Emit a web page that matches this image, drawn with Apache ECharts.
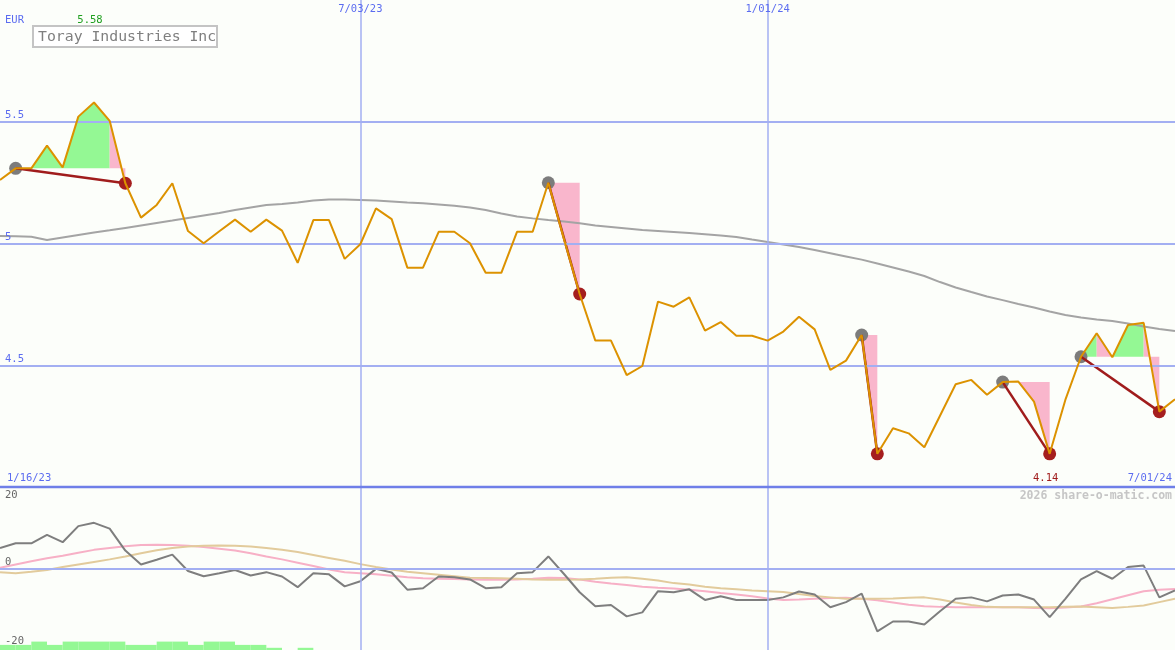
<!DOCTYPE html>
<html><head><meta charset="utf-8">
<script src="https://cdn.jsdelivr.net/npm/echarts@6/dist/echarts.min.js"></script>
<style>html,body{margin:0;padding:0;background:#fcfefa;}#c{width:1175px;height:650px;}</style>
</head><body><div id="c"></div>
<script>
// ---- data (weekly closes) ----
const price = [5.262,5.31,5.31,5.403,5.314,5.522,5.58,5.505,5.249,5.108,
5.16,5.249,5.053,5.003,5.052,5.10,5.05,5.10,5.055,4.923,
5.098,5.098,4.939,4.999,5.146,5.102,4.903,4.903,5.05,5.05,
5.003,4.882,4.882,5.05,5.05,5.251,5.02,4.795,4.604,4.604,
4.463,4.50,4.764,4.743,4.781,4.645,4.68,4.624,4.624,4.604,
4.641,4.702,4.65,4.484,4.522,4.627,4.14,4.245,4.224,4.167,
4.296,4.425,4.443,4.382,4.434,4.436,4.354,4.14,4.361,4.538,
4.634,4.536,4.668,4.677,4.313,4.364];
const avg = [5.033,5.032,5.030,5.016,5.027,5.037,5.047,5.056,5.066,5.076,
5.086,5.096,5.107,5.117,5.127,5.139,5.150,5.160,5.164,5.170,
5.178,5.182,5.182,5.180,5.178,5.174,5.170,5.167,5.162,5.157,
5.150,5.139,5.125,5.113,5.105,5.098,5.092,5.085,5.076,5.070,
5.064,5.057,5.053,5.049,5.045,5.040,5.035,5.029,5.018,5.008,
4.998,4.988,4.975,4.962,4.949,4.936,4.920,4.904,4.887,4.869,
4.844,4.822,4.803,4.785,4.770,4.754,4.740,4.723,4.709,4.699,
4.691,4.684,4.674,4.662,4.652,4.643];
const oscGray = [5.6,6.9,6.9,9.2,7.2,11.6,12.5,10.9,4.9,1.1,
2.4,3.8,-0.7,-2.1,-1.3,-0.4,-1.9,-1.0,-2.2,-5.1,
-1.3,-1.6,-4.9,-3.5,-0.1,-1.1,-5.8,-5.4,-2.2,-2.4,
-3.0,-5.4,-5.1,-1.3,-1.0,3.3,-1.5,-6.5,-10.3,-10.0,
-13.1,-12.0,-6.2,-6.5,-5.7,-8.6,-7.6,-8.6,-8.6,-8.6,
-7.9,-6.3,-7.1,-10.6,-9.2,-6.9,-17.2,-14.5,-14.5,-15.3,
-11.7,-8.3,-7.9,-9.0,-7.4,-7.1,-8.5,-13.3,-8.3,-3.0,
-0.7,-2.8,0.4,0.8,-7.9,-6.0];
const oscPink = [0.2,1.1,2.0,2.8,3.5,4.3,5.1,5.6,6.1,6.4,
6.5,6.4,6.2,5.9,5.4,4.9,4.2,3.3,2.5,1.6,
0.7,-0.3,-1.0,-1.3,-1.6,-2.0,-2.4,-2.7,-2.8,-2.9,
-3.0,-3.1,-3.1,-3.0,-2.8,-2.5,-2.6,-3.0,-3.6,-4.1,
-4.5,-5.0,-5.3,-5.5,-5.8,-6.2,-6.7,-7.1,-7.6,-8.2,
-8.6,-8.5,-8.3,-8.1,-8.0,-8.3,-8.7,-9.3,-9.9,-10.3,
-10.5,-10.6,-10.6,-10.6,-10.6,-10.6,-10.8,-10.9,-10.7,-10.4,
-9.5,-8.4,-7.3,-6.2,-5.8,-5.6];
const oscTan = [-1.0,-1.3,-0.9,-0.4,0.4,1.1,1.8,2.5,3.3,4.2,
5.0,5.6,6.0,6.2,6.3,6.2,6.0,5.6,5.1,4.5,
3.7,2.9,2.1,1.2,0.4,-0.3,-0.9,-1.3,-1.7,-2.1,
-2.5,-2.6,-2.7,-2.8,-3.0,-3.1,-3.1,-3.0,-2.8,-2.5,
-2.4,-2.8,-3.3,-4.0,-4.4,-5.0,-5.4,-5.7,-6.0,-6.2,
-6.4,-7.0,-7.5,-7.9,-8.3,-8.3,-8.3,-8.2,-8.0,-7.9,
-8.5,-9.3,-10.0,-10.5,-10.6,-10.6,-10.6,-10.6,-10.5,-10.4,
-10.6,-10.8,-10.5,-10.1,-9.2,-8.3];
const greenBars = [-20.9,-20.9,-20.0,-20.9,-20.0,-20.0,-20.0,-20.0,-20.9,-20.9,
-20.0,-20.0,-20.9,-20.0,-20.0,-20.9,-20.9,-21.7,null,-21.7];
const swings = [[1,8],[35,37],[55,56],[64,67],[69,74]];   // [high index, low index]
const zones = [[1,7,1,'up'],[7,8,1,'down'],[35,37,35,'down'],[55,56,55,'down'],
  [64,67,64,'down'],[69,70,69,'up'],[70,71,69,'down'],[71,73,69,'up'],[73,74,69,'down']];
const priceTicks = [5.5, 5, 4.5];
const oscTicks = [20, 0, -20];
const dateTickIdx = [23, 49];
const dateTickLabels = ['7/03/23', '1/01/24'];
const startLabel = '1/16/23', endLabel = '7/01/24';
const titleText = 'Toray Industries Inc';
const currency = 'EUR';
const hiLabel = '5.58', loLabel = '4.14';
const watermark = '2026 share-o-matic.com';

// ---- chart ----
const N = price.length - 1;
const OMIN = -22.3, OMAX = 22.3;
const FONT = 'DejaVu Sans Mono';
const GRIDC = '#a3aff2', BLUE = '#5b6cf0';
const chart = echarts.init(document.getElementById('c'), null, {renderer: 'canvas'});
const pair = a => a.map((v, i) => [i, v]);

const vLines = dateTickIdx.map(x => ({xAxis: x}));
const option = {
  backgroundColor: '#fcfefa',
  animation: false,
  textStyle: {fontFamily: FONT},
  grid: [
    {left: 0, right: 0, top: 0, height: 488, containLabel: false},
    {left: 0, right: 0, top: 487, height: 163, containLabel: false}
  ],
  xAxis: [
    {type: 'value', gridIndex: 0, min: 0, max: N, show: false},
    {type: 'value', gridIndex: 1, min: 0, max: N, show: false}
  ],
  yAxis: [
    {type: 'value', gridIndex: 0, min: 4, max: 6, show: false},
    {type: 'value', gridIndex: 1, min: OMIN, max: OMAX, show: false}
  ],
  series: [
    { // fills between price and swing level
      type: 'custom', xAxisIndex: 0, yAxisIndex: 0, z: 1,
      data: zones.map(z => [z[0], z[1], price[z[2]], z[3] === 'up' ? 1 : 0]),
      encode: {x: [0, 1], y: 2},
      renderItem: function (params, api) {
        const s = api.value(0), e = api.value(1), lvl = api.value(2), up = api.value(3);
        const pts = [api.coord([s, lvl])];
        for (let k = s; k <= e; k++) pts.push(api.coord([k, price[k]]));
        pts.push(api.coord([e, lvl]));
        return {type: 'polygon', shape: {points: pts}, style: {fill: up ? '#94f894' : '#f9b6cc'}};
      }
    },
    { // moving average + grid lines
      type: 'line', xAxisIndex: 0, yAxisIndex: 0, z: 2,
      data: pair(avg), showSymbol: false, symbol: 'none',
      lineStyle: {color: '#a4a4a4', width: 2},
      markLine: {
        silent: true, symbol: 'none', animation: false,
        lineStyle: {color: GRIDC, width: 2, type: 'solid'},
        label: {show: true, position: 'insideStartTop', color: BLUE, fontFamily: FONT, fontSize: 10.5,
                formatter: p => String(p.value), distance: [5, 1]},
        data: priceTicks.map(v => ({yAxis: v})).concat(
          vLines.map(l => Object.assign({}, l, {label: {show: false}, lineStyle: {color: GRIDC, width: 1.5}})))
      }
    },
    { // swing high dots
      type: 'scatter', xAxisIndex: 0, yAxisIndex: 0, z: 3,
      data: swings.map(s => [s[0], price[s[0]]]), symbolSize: 13,
      itemStyle: {color: '#7c7c7c', opacity: 1}
    },
    { // swing low dots
      type: 'scatter', xAxisIndex: 0, yAxisIndex: 0, z: 3,
      data: swings.map(s => [s[1], price[s[1]]]), symbolSize: 13,
      itemStyle: {color: '#a51e1e', opacity: 1}
    },
    { // swing connectors
      type: 'custom', xAxisIndex: 0, yAxisIndex: 0, z: 4,
      data: swings.map(s => [s[0], s[1], price[s[0]], price[s[1]]]),
      encode: {x: [0, 1], y: [2, 3]},
      renderItem: function (params, api) {
        const a = api.coord([api.value(0), api.value(2)]);
        const b = api.coord([api.value(1), api.value(3)]);
        return {type: 'line', shape: {x1: a[0], y1: a[1], x2: b[0], y2: b[1]},
                style: {stroke: '#a01c1c', lineWidth: 2.5}};
      }
    },
    { // price
      type: 'line', xAxisIndex: 0, yAxisIndex: 0, z: 5,
      data: pair(price), showSymbol: false, symbol: 'none',
      lineStyle: {color: '#dc9200', width: 2}
    },
    { // oscillator bars
      type: 'custom', xAxisIndex: 1, yAxisIndex: 1, z: 1,
      data: greenBars.map((v, i) => [i, v]).filter(d => d[1] !== null),
      encode: {x: 0, y: 1},
      renderItem: function (params, api) {
        const p0 = api.coord([api.value(0), api.value(1)]);
        const p1 = api.coord([api.value(0) + 1, OMIN]);
        return {type: 'rect', shape: {x: p0[0], y: p0[1], width: p1[0] - p0[0], height: p1[1] - p0[1]},
                style: {fill: '#94f894'}};
      }
    },
    {
      type: 'line', xAxisIndex: 1, yAxisIndex: 1, z: 2,
      data: pair(oscPink), showSymbol: false, symbol: 'none',
      lineStyle: {color: '#f7b0c6', width: 2},
      markLine: {
        silent: true, symbol: 'none', animation: false, label: {show: false},
        lineStyle: {color: GRIDC, width: 2, type: 'solid'},
        data: [{yAxis: 0}].concat(vLines.map(l => Object.assign({}, l, {lineStyle: {color: GRIDC, width: 1.5}})))
      }
    },
    {
      type: 'line', xAxisIndex: 1, yAxisIndex: 1, z: 3,
      data: pair(oscTan), showSymbol: false, symbol: 'none',
      lineStyle: {color: '#e2cb9c', width: 2}
    },
    {
      type: 'line', xAxisIndex: 1, yAxisIndex: 1, z: 4,
      data: pair(oscGray), showSymbol: false, symbol: 'none',
      lineStyle: {color: '#7e7e7e', width: 2}
    }
  ]
};
chart.setOption(option);

// ---- annotations placed through the axes ----
const px0 = v => chart.convertToPixel({gridIndex: 0}, v);
const px1 = v => chart.convertToPixel({gridIndex: 1}, v);
const g = [];
const txt = (text, x, y, fill, size, align, va, weight) => g.push({
  type: 'text', z: 100, silent: true,
  style: {text: text, x: x, y: y, fill: fill, font: (weight || 'normal') + ' ' + size + 'px "' + FONT + '"',
          textAlign: align, textVerticalAlign: va}
});
const divY = px0([0, 4])[1] - 1;
g.push({type: 'line', z: 90, silent: true, shape: {x1: 0, y1: divY, x2: 1175, y2: divY},
        style: {stroke: '#6f7fe8', lineWidth: 2.5}});
dateTickIdx.forEach((x, i) => txt(dateTickLabels[i], px0([x, 6])[0], 9, BLUE, 10.5, 'center', 'middle'));
txt(startLabel, 7, 478, BLUE, 10.5, 'left', 'middle');
txt(endLabel, 1172, 478, BLUE, 10.5, 'right', 'middle');
txt(currency, 5, 20, BLUE, 10.5, 'left', 'middle');
const hiIdx = price.indexOf(Math.max.apply(null, price));
const loIdx = price.lastIndexOf(Math.min.apply(null, price));
txt(hiLabel, px0([hiIdx, 6])[0] - 4, 20, '#1f9f1f', 10.5, 'center', 'middle');
txt(loLabel, px0([loIdx, 4])[0] - 4, 478, '#a01c1c', 10.5, 'center', 'middle');
txt(watermark, 1172, 496, '#c6c6c6', 11.5, 'right', 'middle', 'bold');
oscTicks.forEach(v => {
  const y = px1([0, v])[1];
  txt(String(v), 5, v === 0 ? y - 6 : y, '#666666', 10.5, 'left', 'middle');
});
g.push({type: 'rect', z: 95, silent: true, shape: {x: 33, y: 26, width: 184, height: 21},
        style: {fill: '#ffffff', stroke: '#c4c4c4', lineWidth: 2}});
txt(titleText, 38, 37, '#7f7f7f', 14.8, 'left', 'middle');
chart.setOption({graphic: g});
</script></body></html>
